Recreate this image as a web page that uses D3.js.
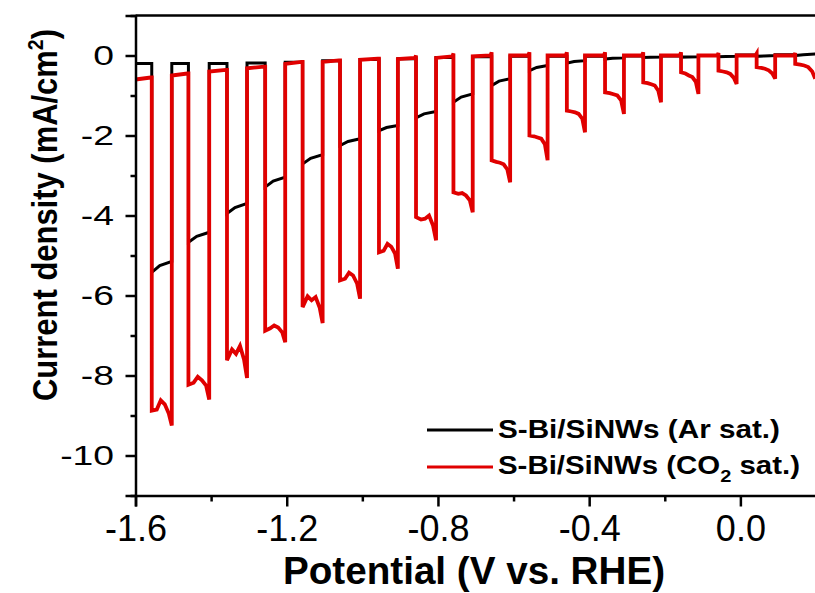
<!DOCTYPE html>
<html>
<head>
<meta charset="utf-8">
<script src="https://cdn.jsdelivr.net/npm/d3@7/dist/d3.min.js"></script>
<style>
  html, body { margin: 0; padding: 0; background: #fff; }
  svg { display: block; }
  text { font-family: "Liberation Sans", Arial, sans-serif; fill: #000; }
</style>
</head>
<body>
<svg id="chart" width="815" height="593"></svg>
<script>
// ---------------- data ----------------
const xMajorTicks = [-1.6, -1.2, -0.8, -0.4, 0.0];
const xTickLabels = ["-1.6", "-1.2", "-0.8", "-0.4", "0.0"];
const xMinorTicks = [-1.4, -1.0, -0.6, -0.2, 0.2];
const yMajorTicks = [-10, -8, -6, -4, -2, 0];
const yTickLabels = ["-10", "-8", "-6", "-4", "-2", "0"];
const yMinorTicks = [-11, -9, -7, -5, -3, -1, 1];

// light-on windows (V vs RHE)
const lightOn  = [-1.557, -1.460, -1.358, -1.257, -1.158, -1.059, -0.956, -0.858, -0.759, -0.658, -0.558, -0.459, -0.358, -0.257, -0.157, -0.058, 0.043, 0.145];
const lightOff = [-1.504, -1.405, -1.305, -1.204, -1.105, -1.006, -0.906, -0.805, -0.708, -0.609, -0.510, -0.411, -0.308, -0.210, -0.111, -0.010, 0.092, 0.198];

// CO2 sat. (red): dark level [start, end] before each pulse, spike at light-on
const redDark = [[-0.60,-0.55],[-0.50,-0.45],[-0.40,-0.36],[-0.32,-0.28],[-0.21,-0.16],[-0.16,-0.12],[-0.11,-0.08],[-0.09,-0.06],[-0.06,-0.02],[-0.02,0.0],[0,0],[0,0],[0,0],[0,0],[0,0],[0,0],[0,0],[0,0]];
const redSpike = [-0.55,-0.45,-0.36,-0.28,-0.16,-0.12,-0.08,0.0,0.05,0.08,0.08,0.08,0.08,0.08,0.08,0.06,0.05,0.06];
// photocurrent during each light-on window
const redOn = [
  [-8.88,-8.85,-8.62,-8.72,-8.95,-9.25],
  [-8.23,-8.18,-8.03,-8.12,-8.25,-8.60],
  [-7.62,-7.35,-7.46,-7.26,-7.60,-8.06],
  [-6.88,-6.82,-6.75,-6.80,-6.92,-7.17],
  [-6.29,-6.02,-6.12,-6.04,-6.30,-6.69],
  [-5.62,-5.58,-5.43,-5.50,-5.70,-6.08],
  [-4.92,-4.88,-4.71,-4.78,-4.95,-5.33],
  [-4.04,-4.10,-4.08,-4.00,-4.25,-4.62],
  [-3.42,-3.46,-3.44,-3.50,-3.62,-3.92],
  [-2.62,-2.66,-2.68,-2.72,-2.85,-3.17],
  [-2.00,-2.02,-2.05,-2.08,-2.22,-2.62],
  [-1.38,-1.40,-1.42,-1.46,-1.58,-1.92],
  [-0.92,-0.94,-0.97,-1.00,-1.12,-1.46],
  [-0.67,-0.69,-0.72,-0.75,-0.88,-1.17],
  [-0.42,-0.45,-0.50,-0.54,-0.66,-0.96],
  [-0.38,-0.40,-0.42,-0.46,-0.56,-0.71],
  [-0.29,-0.31,-0.33,-0.37,-0.45,-0.58],
  [-0.21,-0.23,-0.25,-0.29,-0.40,-0.58]
];
const onFractions = [0, 0.25, 0.45, 0.65, 0.85, 1.0];

// Ar sat. (black)
const blackDark = [-0.20,-0.20,-0.20,-0.19,-0.17,-0.13,-0.10,-0.08,-0.05,-0.03,-0.02,-0.02,-0.02,-0.01,-0.01,0.0,0.01,0.02];
const blackOn = [
  [-5.42,-5.25,-5.15],
  [-4.67,-4.52,-4.42],
  [-3.95,-3.80,-3.70],
  [-3.29,-3.14,-3.04],
  [-2.71,-2.57,-2.48],
  [-2.25,-2.15,-2.08],
  [-1.88,-1.80,-1.75],
  [-1.56,-1.46,-1.40],
  [-1.17,-1.04,-0.96],
  [-0.75,-0.64,-0.58],
  [-0.38,-0.30,-0.25],
  [-0.19,-0.15,-0.13],
  [-0.09,-0.07,-0.06],
  [-0.05,-0.045,-0.04],
  [-0.04,-0.035,-0.03],
  [-0.03,-0.025,-0.02],
  [-0.02,-0.01,0.0],
  [0.0,0.02,0.04]
];
const blackFractions = [0, 0.4, 1.0];

const seriesNames = ["S-Bi/SiNWs (Ar sat.)", "S-Bi/SiNWs (CO2 sat.)"];
const seriesColors = ["#000000", "#e00000"];

// ---------------- build point lists ----------------
function buildRed() {
  const pts = [];
  let prevEnd = -1.6;
  for (let i = 0; i < lightOn.length; i++) {
    const s = lightOn[i], e = lightOff[i];
    const w = s - prevEnd;
    pts.push([prevEnd, redDark[i][0]]);
    pts.push([s - w * 0.06, redDark[i][1]]);
    pts.push([s, redSpike[i]]);
    redOn[i].forEach((v, j) => pts.push([s + (e - s) * onFractions[j], v]));
    prevEnd = e;
  }
  return pts;
}
function buildBlack() {
  const pts = [];
  let prevEnd = -1.6;
  for (let i = 0; i < lightOn.length; i++) {
    const s = lightOn[i], e = lightOff[i];
    pts.push([prevEnd, blackDark[i]]);
    pts.push([s, blackDark[i]]);
    blackOn[i].forEach((v, j) => pts.push([s + (e - s) * blackFractions[j], v]));
    prevEnd = e;
  }
  return pts;
}

// ---------------- chart ----------------
const svg = d3.select("#chart");
const x = d3.scaleLinear().domain([-1.6, 0.2]).range([135.5, 816]);
const y = d3.scaleLinear().domain([-11, 1]).range([495.5, 15.5]);

svg.append("rect").attr("width", 815).attr("height", 593).attr("fill", "#fff");

const line = d3.line().x(d => x(d[0])).y(d => y(d[1]));

const plot = svg.append("g");
plot.append("path").datum(buildBlack())
  .attr("fill", "none").attr("stroke", seriesColors[0]).attr("stroke-width", 3)
  .attr("stroke-linejoin", "miter").attr("d", line);
plot.append("path").datum(buildRed())
  .attr("fill", "none").attr("stroke", seriesColors[1]).attr("stroke-width", 3.8)
  .attr("stroke-linejoin", "miter").attr("d", line);

// frame top
svg.append("line").attr("x1", x(-1.6)).attr("x2", 815).attr("y1", y(1)).attr("y2", y(1))
  .attr("stroke", "#000").attr("stroke-width", 2.5);

// x axis
const xAxis = svg.append("g").attr("transform", `translate(0,${y(-11)})`)
  .call(d3.axisBottom(x).tickValues(xMajorTicks).tickSize(11).tickPadding(9)
    .tickFormat((d, i) => xTickLabels[i]));
xAxis.select(".domain").attr("stroke-width", 2.5);
xAxis.selectAll(".tick line").attr("stroke-width", 2.5);
xAxis.selectAll("text").style("font-size", "36px");
const xMinor = svg.append("g").attr("transform", `translate(0,${y(-11)})`)
  .call(d3.axisBottom(x).tickValues(xMinorTicks).tickSize(6).tickFormat(""));
xMinor.select(".domain").remove();
xMinor.selectAll(".tick line").attr("stroke-width", 2.5);

// y axis
const yAxis = svg.append("g").attr("transform", `translate(${x(-1.6)},0)`)
  .call(d3.axisLeft(y).tickValues(yMajorTicks).tickSize(10).tickPadding(5.6)
    .tickFormat((d, i) => yTickLabels[i]));
yAxis.select(".domain").attr("stroke-width", 2.5);
yAxis.selectAll(".tick line").attr("stroke-width", 2.5);
yAxis.selectAll("text").style("font-size", "27px").attr("transform", "scale(1.38,1)");
const yMinor = svg.append("g").attr("transform", `translate(${x(-1.6)},0)`)
  .call(d3.axisLeft(y).tickValues(yMinorTicks).tickSize(5).tickFormat(""));
yMinor.select(".domain").remove();
yMinor.selectAll(".tick line").attr("stroke-width", 2.5);

// axis titles
svg.append("text").attr("x", 474).attr("y", 584).attr("text-anchor", "middle")
  .style("font-size", "38px").style("font-weight", "bold")
  .attr("textLength", 382).attr("lengthAdjust", "spacingAndGlyphs")
  .text("Potential (V vs. RHE)");

const yt = svg.append("text").attr("transform", "translate(57,215) rotate(-90)")
  .attr("text-anchor", "middle").style("font-size", "35px").style("font-weight", "bold")
  .attr("textLength", 372).attr("lengthAdjust", "spacingAndGlyphs");
yt.append("tspan").text("Current density (mA/cm");
yt.append("tspan").attr("dy", -14).style("font-size", "22px").text("2");
yt.append("tspan").attr("dy", 14).text(")");

// legend
const leg = svg.append("g");
const legY = [430, 467];
seriesNames.forEach((name, i) => {
  leg.append("line").attr("x1", 427).attr("x2", 493).attr("y1", legY[i]).attr("y2", legY[i])
    .attr("stroke", seriesColors[i]).attr("stroke-width", 3);
});
leg.append("text").attr("x", 498).attr("y", 438).style("font-size", "25px").style("font-weight", "bold")
  .attr("textLength", 282).attr("lengthAdjust", "spacingAndGlyphs")
  .text(seriesNames[0]);
const t2 = leg.append("text").attr("x", 498).attr("y", 474).style("font-size", "25px").style("font-weight", "bold")
  .attr("textLength", 302).attr("lengthAdjust", "spacingAndGlyphs");
t2.append("tspan").text("S-Bi/SiNWs (CO");
t2.append("tspan").attr("dy", 8).style("font-size", "17px").text("2");
t2.append("tspan").attr("dy", -8).text(" sat.)");
</script>
</body>
</html>
